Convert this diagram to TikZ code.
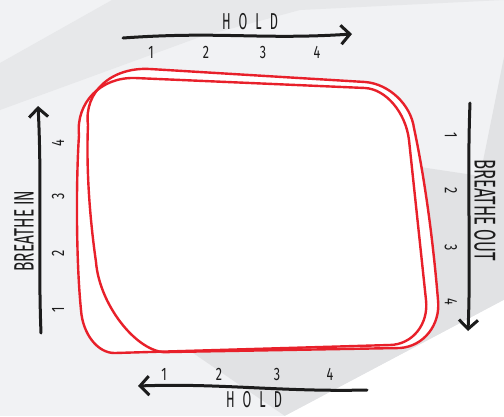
\documentclass[tikz,border=0pt]{standalone}
\usepackage{fontspec}
\usetikzlibrary{arrows.meta}
\newfontfamily\handfont{Fira Sans}[FakeStretch=0.7]
\newfontfamily\narrowfont{Fira Sans}[FakeStretch=0.55]
\definecolor{bgbase}{HTML}{F1F2F4}
\definecolor{bgband}{HTML}{E7E8EA}
\definecolor{bgdark}{HTML}{E1E2E4}
\definecolor{boxred}{HTML}{E8202A}
\definecolor{ink}{HTML}{1C1C1C}
\tikzset{
    arrowline/.style={ink, line width=3pt, line cap=round,
        -{Straight Barb[length=9pt, width=19pt]}},
    holdtxt/.style={ink, inner sep=0pt, font=\narrowfont\fontsize{23}{23}\selectfont},
    sidetxt/.style={ink, inner sep=0pt, font=\narrowfont\fontsize{28}{28}\selectfont},
    numtxt/.style={ink, inner sep=0pt, font=\handfont\fontsize{18}{18}\selectfont},
    redloop/.style={boxred, line width=2.4pt},
}
\begin{document}
\begin{tikzpicture}[x=1pt, y=-1pt]
    \useasboundingbox (0,0) rectangle (504,416);
    % background
    \fill[bgbase] (0,0) rectangle (504,416);
    \fill[bgband] (0,63) -- (112,0) -- (504,0) -- (300,10) -- (200,37) -- (0,110) -- cycle;
    \fill[bgdark] (504,57) -- (504,300) -- (285,416) -- (193,353) -- (300,250)
        -- (420,167) -- (480,176) -- cycle;
    \fill[white] (504,300) -- (504,416) -- (285,416) -- cycle;

    % the box: two rough loops
    \def\loopA{(150,69) -- (365,82) .. controls (388.7,83.7) and (410.7,104.4) .. (414,128)
        .. controls (425,180) and (433,240) .. (438,300)
        .. controls (440.75,324.75) and (423.7,346.4) .. (400,348) -- (170,352)
        .. controls (140.3,356.5) and (99.6,307) .. (96,262)
        .. controls (90,220) and (86,170) .. (88,125)
        .. controls (83.6,92) and (111.5,66.8) .. cycle}
    \def\loopB{(135,78) -- (365,88) .. controls (385.9,89.1) and (405.7,112.5) .. (409,140)
        -- (426,300) .. controls (428.75,324.2) and (412.55,344.45) .. (390,345) -- (115,353)
        .. controls (98,353.5) and (82.65,334.2) .. (81,310)
        .. controls (76,260) and (76,180) .. (79,135)
        .. controls (75.7,102.5) and (100.9,76.9) .. cycle}
    \fill[white] \loopA;
    \fill[white] \loopB;
    \draw[redloop] \loopA;
    \draw[redloop] \loopB;

    % labels
    \node[holdtxt] (holdTop) at (250,22) {H\hspace{8pt}O\hspace{8pt}L\hspace{8pt}D};
    \node[holdtxt] (holdBot) at (254,400) {H\hspace{8pt}O\hspace{8pt}L\hspace{8pt}D};
    \node[sidetxt, rotate=90] (breatheIn) at (24,231) {BREATHE IN};
    \node[sidetxt, rotate=-90, font=\narrowfont\fontsize{30}{30}\selectfont] (breatheOut) at (485,210) {BREATHE OUT};

    % arrows
    \coordinate (topS) at (123,38);  \coordinate (topE) at (352,34);
    \coordinate (botS) at (367,390); \coordinate (botE) at (138,386);
    \coordinate (inS) at (41,333);   \coordinate (inE) at (38,106);
    \coordinate (outS) at (470,103); \coordinate (outE) at (468,331);
    \draw[arrowline] (topS) .. controls (220,31) and (260,40) .. (topE);
    \draw[arrowline] (botS) .. controls (280,392) and (220,383) .. (botE);
    \draw[arrowline] (inS) .. controls (38,260) and (42,180) .. (inE);
    \draw[arrowline] (outS) .. controls (467,180) and (471,260) .. (outE);

    % counts
    \foreach \n/\x in {1/151,2/206,3/263,4/317} \node[numtxt] (top\n) at (\x,52) {\n};
    \foreach \n/\x in {1/164,2/219,3/277,4/330} \node[numtxt] (bot\n) at (\x,374) {\n};
    \foreach \n/\y in {1/310,2/253,3/196,4/143} \node[numtxt, rotate=90] (in\n) at (58,\y) {\n};
    \foreach \n/\y in {1/135,2/191,3/248,4/302} \node[numtxt, rotate=-90] (out\n) at (451,\y) {\n};
\end{tikzpicture}
\end{document}
